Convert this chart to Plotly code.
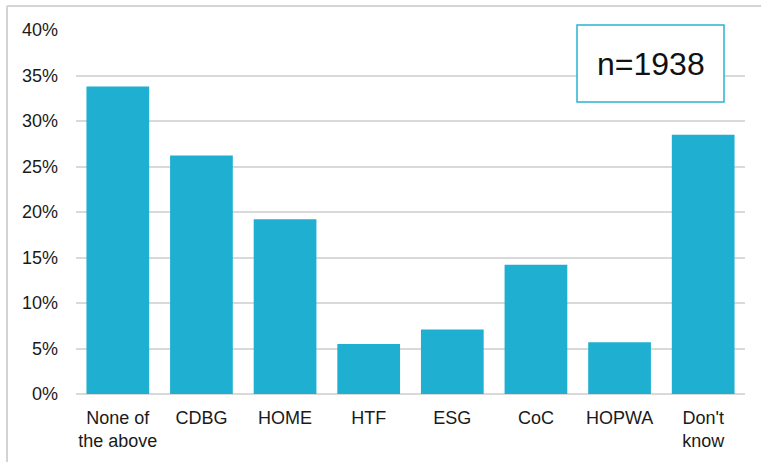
import plotly.graph_objects as go

# Share of respondents naming each funding program (%)
categories = ["None of<br>the above", "CDBG", "HOME", "HTF", "ESG", "CoC", "HOPWA", "Don't<br>know"]
shares = [33.8, 26.2, 19.2, 5.5, 7.1, 14.2, 5.7, 28.5]
sample_label = "n=1938"

bar_color = "#1FAFD1"
grid_color = "#D9D9D9"
font_family = "Liberation Sans, Arial, sans-serif"

W, H = 761, 462
ml, mr, mt, mb = 76, 16, 30, 68
pw, ph = W - ml - mr, H - mt - mb


def px_x(p):
    return (p - ml) / pw


def px_y(p):
    return (H - mb - p) / ph


fig = go.Figure(
    go.Bar(
        x=categories,
        y=shares,
        marker=dict(color=bar_color, line=dict(width=0)),
        hoverinfo="x+y",
    )
)

fig.update_layout(
    width=W,
    height=H,
    margin=dict(l=ml, r=mr, t=mt, b=mb),
    paper_bgcolor="white",
    plot_bgcolor="white",
    bargap=0.25,
    showlegend=False,
    font=dict(family=font_family, size=18, color="#1a1a1a"),
    xaxis=dict(
        showgrid=False,
        showline=False,
        zeroline=False,
        ticks="",
        ticklabelstandoff=11,
        tickfont=dict(size=18),
        fixedrange=True,
    ),
    yaxis=dict(
        range=[0, 40],
        dtick=5,
        tick0=0,
        ticksuffix="%",
        showgrid=True,
        gridcolor=grid_color,
        gridwidth=1.5,
        zeroline=True,
        zerolinecolor=grid_color,
        zerolinewidth=1.5,
        showline=False,
        ticks="",
        ticklabelstandoff=17,
        tickfont=dict(size=18),
        fixedrange=True,
    ),
    shapes=[
        # outer frame (top and left edges)
        dict(type="line", xref="paper", yref="paper",
             x0=px_x(7), x1=px_x(W + 5), y0=px_y(6), y1=px_y(6),
             line=dict(color="#D4D4D4", width=2)),
        dict(type="line", xref="paper", yref="paper",
             x0=px_x(7), x1=px_x(7), y0=px_y(6), y1=px_y(H + 5),
             line=dict(color="#D4D4D4", width=2)),
        # sample-size box
        dict(type="rect", xref="paper", yref="paper",
             x0=px_x(577), x1=px_x(724), y0=px_y(102), y1=px_y(25),
             fillcolor="white", line=dict(color="#29B3D3", width=1.5),
             layer="above"),
    ],
    annotations=[
        dict(text=sample_label, xref="paper", yref="paper",
             x=px_x(650.5), y=px_y(63.5), xanchor="center", yanchor="middle",
             showarrow=False, font=dict(size=32, color="#111111", family=font_family)),
    ],
)

fig.write_html("out.html")
